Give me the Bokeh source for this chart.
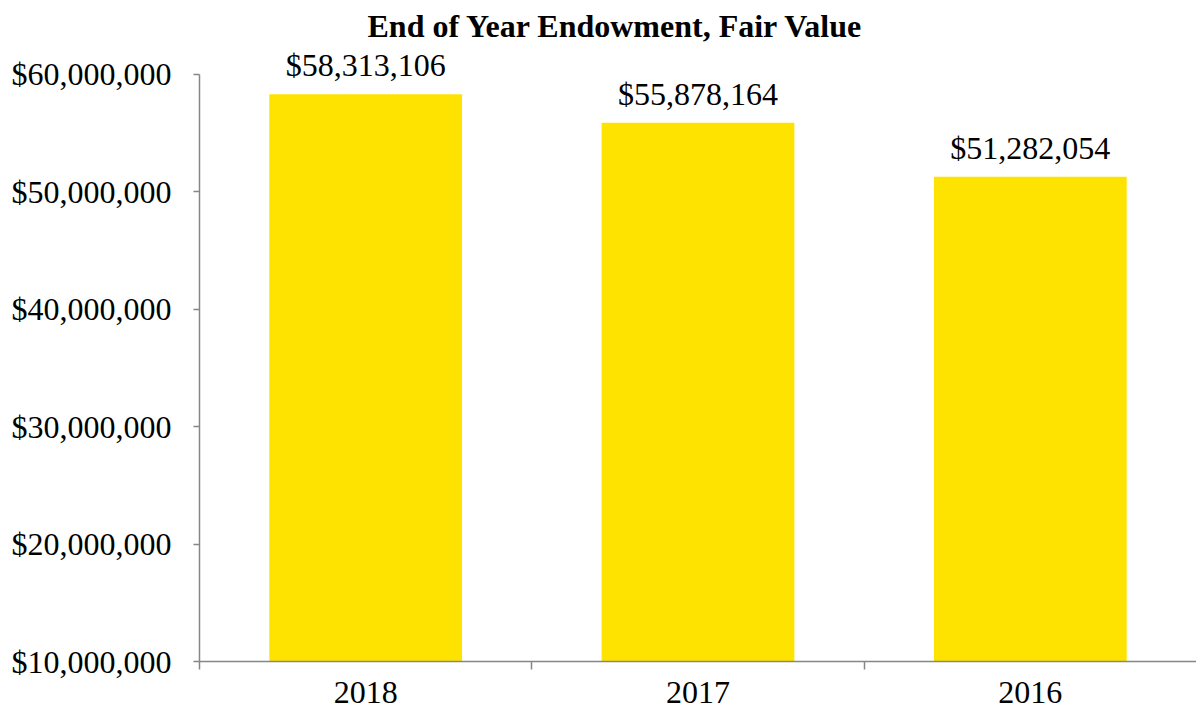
import numpy as np
from bokeh.plotting import figure
from bokeh.models import ColumnDataSource, FixedTicker, NumeralTickFormatter, Range1d, LabelSet, Label
from bokeh.embed import file_html
from bokeh.resources import INLINE

# ---- data ----
years = ["2018", "2017", "2016"]
endowment = [58313106, 55878164, 51282054]
y_ticks = [10000000, 20000000, 30000000, 40000000, 50000000, 60000000]
title_text = "End of Year Endowment, Fair Value"

FONT = "Liberation Serif"
FS = "32px"
BAR = "#FFE300"
AXIS = "#868686"
Y_TOP = 66300000  # headroom above the axis for title and labels

pos = np.arange(len(years)) + 0.5
labels = ["${:,}".format(v) for v in endowment]
src = ColumnDataSource(dict(x=pos, top=endowment, label=labels))

p = figure(width=1196, height=710, output_backend="svg", toolbar_location=None,
           x_range=Range1d(0, len(years)), y_range=Range1d(y_ticks[0], Y_TOP),
           min_border_left=199, min_border_right=0, min_border_top=0, min_border_bottom=49)

p.vbar(x="x", top="top", bottom=y_ticks[0], width=0.58, source=src,
       fill_color=BAR, line_color=None)
p.add_layout(LabelSet(x="x", y="top", text="label", source=src, text_font=FONT,
                      text_font_size=FS, text_align="center",
                      text_baseline="alphabetic", y_offset=18, text_color="black"))

# chart title (inside the frame area, above the axis top)
p.add_layout(Label(x=0.5055, y=64100000, text=title_text, text_font=FONT,
                   text_font_size=FS, text_font_style="bold",
                   text_align="left", text_baseline="alphabetic", text_color="black"))

p.outline_line_color = None
p.xgrid.grid_line_color = None
p.ygrid.grid_line_color = None

# y axis
p.yaxis.ticker = FixedTicker(ticks=y_ticks, minor_ticks=[])
p.yaxis.bounds = (y_ticks[0], y_ticks[-1])
p.yaxis.formatter = NumeralTickFormatter(format="$0,0")
p.yaxis.axis_line_color = AXIS
p.yaxis.axis_line_width = 1.5
p.yaxis.major_tick_line_color = AXIS
p.yaxis.major_tick_line_width = 1.5
p.yaxis.major_tick_out = 6
p.yaxis.major_tick_in = 0
p.yaxis.major_label_standoff = 22
p.yaxis.major_label_text_font = FONT
p.yaxis.major_label_text_font_size = FS
p.yaxis.major_label_text_color = "black"

# x axis: labels at category centres, tick marks between categories
p.xaxis.ticker = FixedTicker(ticks=list(pos), minor_ticks=list(range(len(years))))
p.xaxis.major_label_overrides = {float(x): y for x, y in zip(pos, years)}
p.xaxis.axis_line_color = AXIS
p.xaxis.axis_line_width = 1.5
p.xaxis.major_tick_out = 0
p.xaxis.major_tick_in = 0
p.xaxis.minor_tick_out = 8
p.xaxis.minor_tick_in = 0
p.xaxis.minor_tick_line_color = AXIS
p.xaxis.minor_tick_line_width = 1.5
p.xaxis.major_label_standoff = 12
p.xaxis.major_label_text_font = FONT
p.xaxis.major_label_text_font_size = FS
p.xaxis.major_label_text_color = "black"

open("out.html", "w").write(file_html(p, INLINE))
